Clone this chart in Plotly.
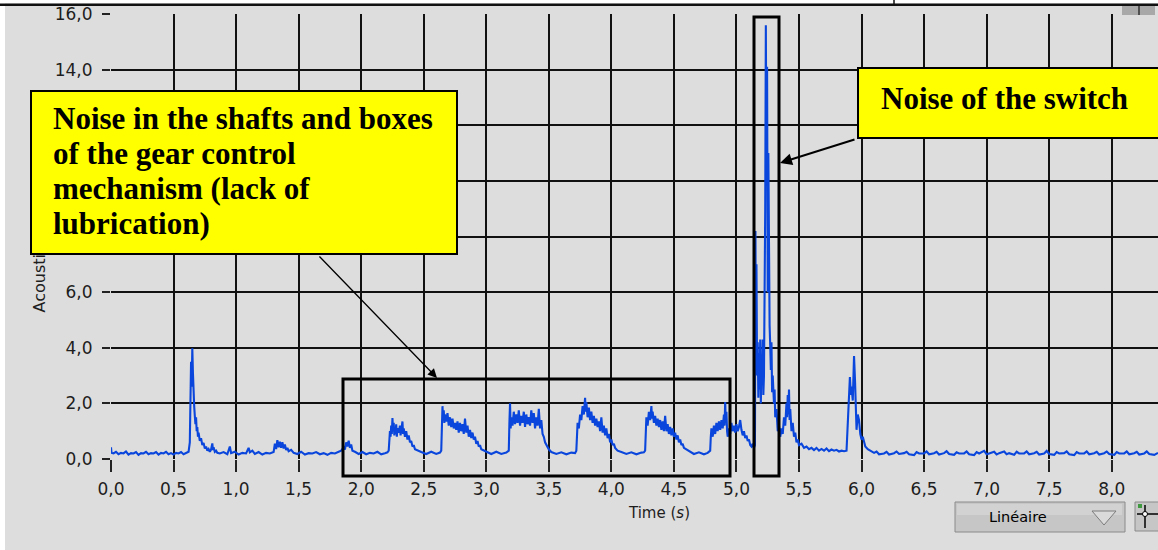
import plotly.graph_objects as go

# ---------------- data (time in s, acoustic level) ----------------
start_idle = [(0.000, 0.42), (0.004, 0.22), (0.02, 0.20), (0.04, 0.26), (0.06, 0.17), (0.08, 0.22),
              (0.10, 0.20), (0.12, 0.27), (0.14, 0.16), (0.16, 0.21), (0.18, 0.20), (0.20, 0.25),
              (0.22, 0.15), (0.24, 0.21), (0.26, 0.20), (0.28, 0.26), (0.30, 0.17), (0.32, 0.21),
              (0.34, 0.20), (0.36, 0.25), (0.38, 0.16), (0.40, 0.22), (0.42, 0.20), (0.44, 0.26),
              (0.46, 0.17), (0.48, 0.21), (0.50, 0.16), (0.52, 0.22), (0.54, 0.20), (0.56, 0.25),
              (0.58, 0.17), (0.60, 0.22), (0.62, 0.26)]

first_peak = [(0.630, 0.60), (0.636, 2.90), (0.640, 3.50), (0.645, 2.60), (0.650, 3.98), (0.655, 3.10),
              (0.660, 2.20), (0.665, 1.90), (0.670, 1.55), (0.675, 1.25), (0.680, 1.50), (0.685, 1.00),
              (0.690, 1.15), (0.695, 0.80), (0.700, 0.95), (0.710, 0.65), (0.720, 0.75), (0.730, 0.50),
              (0.740, 0.58), (0.750, 0.38), (0.760, 0.45), (0.770, 0.30), (0.780, 0.36), (0.790, 0.26),
              (0.800, 0.34), (0.810, 0.56), (0.815, 0.32), (0.820, 0.42), (0.830, 0.26), (0.840, 0.30),
              (0.850, 0.22)]

mid_idle = [(0.87, 0.20), (0.90, 0.25), (0.93, 0.17), (0.95, 0.45), (0.96, 0.21), (0.99, 0.26),
            (1.02, 0.16), (1.05, 0.22), (1.08, 0.20), (1.10, 0.40), (1.11, 0.24), (1.13, 0.30),
            (1.15, 0.18), (1.18, 0.25), (1.21, 0.16), (1.24, 0.22), (1.27, 0.20), (1.30, 0.25),
            (1.31, 0.55), (1.32, 0.36), (1.33, 0.68), (1.34, 0.42), (1.35, 0.62), (1.36, 0.40),
            (1.37, 0.60), (1.38, 0.38), (1.39, 0.52), (1.40, 0.32), (1.41, 0.40), (1.42, 0.28),
            (1.44, 0.33), (1.46, 0.22), (1.49, 0.18), (1.52, 0.26), (1.55, 0.16), (1.58, 0.21),
            (1.61, 0.20), (1.64, 0.25), (1.67, 0.17), (1.70, 0.21), (1.73, 0.15), (1.76, 0.22),
            (1.79, 0.20), (1.82, 0.26), (1.84, 0.30)]

small_bump = [(1.86, 0.42), (1.87, 0.34), (1.88, 0.60), (1.89, 0.45), (1.90, 0.66), (1.91, 0.40),
              (1.92, 0.52), (1.93, 0.30), (1.95, 0.26), (1.98, 0.18), (2.01, 0.25), (2.04, 0.17),
              (2.07, 0.22), (2.10, 0.20), (2.13, 0.26), (2.16, 0.17), (2.19, 0.21), (2.21, 0.24)]

gear_burst_1 = [(2.220, 0.30), (2.225, 0.70), (2.230, 1.00), (2.235, 0.80), (2.240, 1.20), (2.245, 0.90),
                (2.250, 1.47), (2.255, 1.00), (2.260, 1.30), (2.265, 0.85), (2.270, 1.15), (2.275, 0.90),
                (2.280, 1.25), (2.285, 0.80), (2.290, 1.10), (2.300, 0.95), (2.310, 1.20), (2.315, 0.85),
                (2.320, 1.05), (2.330, 1.35), (2.335, 0.90), (2.340, 1.10), (2.350, 0.80), (2.360, 1.00),
                (2.370, 0.70), (2.380, 0.85), (2.390, 0.60), (2.400, 0.65), (2.410, 0.45), (2.420, 0.50),
                (2.430, 0.35), (2.450, 0.30), (2.480, 0.25), (2.520, 0.18), (2.560, 0.26), (2.600, 0.18),
                (2.630, 0.23)]

gear_burst_2 = [(2.640, 0.30), (2.645, 1.50), (2.650, 1.90), (2.655, 1.40), (2.660, 1.75), (2.665, 1.30),
                (2.670, 1.60), (2.680, 1.35), (2.690, 1.65), (2.700, 1.20), (2.710, 1.50), (2.720, 1.15),
                (2.730, 1.45), (2.740, 1.10), (2.750, 1.30), (2.760, 1.05), (2.770, 1.35), (2.780, 0.95),
                (2.790, 1.30), (2.800, 1.00), (2.810, 1.25), (2.820, 0.90), (2.830, 1.45), (2.840, 0.95),
                (2.850, 1.20), (2.860, 0.80), (2.870, 1.05), (2.880, 0.75), (2.890, 0.95), (2.900, 0.70),
                (2.910, 0.80), (2.920, 0.55), (2.930, 0.65), (2.940, 0.45), (2.950, 0.50), (2.960, 0.35),
                (2.980, 0.30), (3.000, 0.25), (3.040, 0.18), (3.080, 0.26), (3.120, 0.18), (3.160, 0.23)]

gear_burst_3 = [(3.180, 0.30), (3.185, 1.30), (3.190, 2.00), (3.195, 1.10), (3.200, 1.50), (3.210, 1.20),
                (3.220, 1.70), (3.230, 1.25), (3.240, 1.60), (3.250, 1.30), (3.260, 1.75), (3.270, 1.20),
                (3.280, 1.55), (3.290, 1.30), (3.300, 1.70), (3.310, 1.15), (3.320, 1.60), (3.330, 1.25),
                (3.340, 1.50), (3.350, 1.20), (3.360, 1.75), (3.370, 1.30), (3.380, 1.65), (3.390, 1.10),
                (3.400, 1.50), (3.410, 1.20), (3.420, 1.80), (3.430, 1.10), (3.440, 1.40), (3.450, 0.90),
                (3.460, 0.80), (3.470, 0.60), (3.480, 0.50), (3.500, 0.35), (3.520, 0.25), (3.560, 0.18),
                (3.600, 0.24), (3.640, 0.17), (3.680, 0.23), (3.710, 0.21)]

gear_burst_4 = [(3.720, 0.30), (3.725, 1.00), (3.730, 1.30), (3.740, 1.10), (3.750, 1.60), (3.760, 1.40),
                (3.770, 1.90), (3.780, 1.60), (3.790, 2.20), (3.795, 1.70), (3.800, 2.05), (3.810, 1.50),
                (3.820, 1.85), (3.830, 1.40), (3.840, 1.70), (3.850, 1.30), (3.860, 1.55), (3.870, 1.20),
                (3.880, 1.45), (3.890, 1.15), (3.900, 1.35), (3.910, 1.00), (3.920, 1.50), (3.930, 0.95),
                (3.940, 1.20), (3.950, 0.85), (3.960, 1.10), (3.970, 0.75), (3.980, 0.90), (3.990, 0.60),
                (4.000, 0.70), (4.010, 0.50), (4.020, 0.55), (4.030, 0.40), (4.050, 0.30), (4.080, 0.25),
                (4.120, 0.18), (4.160, 0.24), (4.200, 0.17), (4.240, 0.23), (4.260, 0.24)]

gear_burst_5 = [(4.270, 0.30), (4.275, 1.20), (4.280, 1.50), (4.290, 1.20), (4.300, 1.70), (4.310, 1.40),
                (4.320, 1.90), (4.325, 1.45), (4.330, 1.70), (4.340, 1.30), (4.350, 1.55), (4.360, 1.20),
                (4.370, 1.45), (4.380, 1.15), (4.390, 1.40), (4.400, 1.05), (4.410, 1.35), (4.420, 1.00),
                (4.430, 1.55), (4.440, 1.00), (4.450, 1.25), (4.460, 0.90), (4.470, 1.15), (4.480, 0.85),
                (4.490, 1.10), (4.500, 0.80), (4.510, 0.95), (4.520, 0.70), (4.530, 0.85), (4.540, 0.60),
                (4.550, 0.70), (4.560, 0.50), (4.570, 0.55), (4.580, 0.40), (4.600, 0.35), (4.620, 0.28),
                (4.660, 0.18), (4.700, 0.24), (4.740, 0.17), (4.770, 0.22)]

gear_burst_6 = [(4.790, 0.30), (4.795, 0.80), (4.800, 1.10), (4.810, 0.80), (4.820, 1.20), (4.830, 0.90),
                (4.840, 1.30), (4.850, 1.00), (4.860, 1.35), (4.870, 1.05), (4.880, 1.40), (4.890, 1.10),
                (4.900, 1.60), (4.905, 1.20), (4.910, 2.05), (4.915, 1.30), (4.920, 1.70), (4.925, 1.00),
                (4.930, 0.80), (4.940, 1.10), (4.950, 0.90), (4.960, 1.30), (4.970, 1.00), (4.980, 1.20),
                (4.990, 0.95), (5.000, 1.25), (5.010, 1.00), (5.020, 1.15), (5.030, 1.40), (5.040, 1.05),
                (5.050, 0.85), (5.060, 1.00), (5.070, 0.75), (5.080, 0.85), (5.090, 0.65), (5.100, 0.70),
                (5.110, 0.50), (5.120, 0.45), (5.130, 0.55), (5.140, 0.40)]

switch_event = [(5.148, 0.50), (5.152, 8.20), (5.155, 4.00), (5.160, 7.00), (5.165, 3.00), (5.170, 4.20),
                (5.175, 2.20), (5.180, 3.80), (5.185, 2.50), (5.190, 4.30), (5.195, 2.00), (5.200, 3.60),
                (5.205, 2.80), (5.210, 4.30), (5.215, 2.30), (5.220, 3.00), (5.225, 5.20), (5.230, 9.00),
                (5.235, 15.60), (5.240, 10.00), (5.245, 14.10), (5.250, 6.00), (5.255, 11.00), (5.260, 5.50),
                (5.265, 4.80), (5.270, 4.10), (5.275, 3.20), (5.280, 4.20), (5.285, 2.40), (5.290, 3.00),
                (5.300, 2.00), (5.305, 2.50), (5.310, 1.50), (5.320, 1.80), (5.330, 1.00), (5.340, 1.20),
                (5.350, 0.80), (5.360, 1.10), (5.370, 0.90), (5.380, 1.50), (5.390, 1.20), (5.400, 2.00),
                (5.405, 1.50), (5.410, 2.30), (5.415, 1.60), (5.420, 2.50), (5.425, 1.40), (5.430, 1.80),
                (5.440, 1.00), (5.450, 1.30), (5.460, 0.80), (5.470, 0.95), (5.480, 0.60), (5.490, 0.70),
                (5.500, 0.50), (5.520, 0.55), (5.540, 0.40), (5.560, 0.45), (5.580, 0.35), (5.600, 0.40),
                (5.620, 0.32), (5.640, 0.40), (5.660, 0.30), (5.680, 0.36), (5.700, 0.30), (5.720, 0.38),
                (5.740, 0.28), (5.760, 0.34), (5.780, 0.30), (5.800, 0.33), (5.820, 0.27), (5.840, 0.30),
                (5.860, 0.28), (5.880, 0.30)]

release_peak = [(5.890, 1.30), (5.900, 2.20), (5.907, 2.95), (5.915, 2.30), (5.920, 2.60), (5.930, 2.10),
                (5.940, 3.70), (5.948, 2.80), (5.955, 1.90), (5.960, 1.05), (5.970, 1.60), (5.980, 1.40),
                (5.990, 0.90), (6.000, 0.70), (6.010, 0.80), (6.020, 0.55), (6.030, 0.45), (6.050, 0.35),
                (6.070, 0.30)]

tail_idle = [(6.10, 0.22), (6.12, 0.27), (6.14, 0.17), (6.18, 0.20), (6.20, 0.26), (6.22, 0.16),
             (6.26, 0.21), (6.28, 0.27), (6.30, 0.18), (6.34, 0.21), (6.36, 0.26), (6.38, 0.17),
             (6.42, 0.14), (6.44, 0.25), (6.46, 0.20), (6.50, 0.20), (6.52, 0.27), (6.54, 0.17),
             (6.58, 0.21), (6.60, 0.26), (6.62, 0.16), (6.66, 0.21), (6.68, 0.28), (6.70, 0.18),
             (6.74, 0.15), (6.76, 0.24), (6.78, 0.20), (6.82, 0.20), (6.84, 0.27), (6.86, 0.17),
             (6.90, 0.14), (6.92, 0.25), (6.94, 0.20), (6.98, 0.29), (7.00, 0.17), (7.02, 0.20),
             (7.06, 0.26), (7.08, 0.16), (7.10, 0.21), (7.14, 0.27), (7.16, 0.17), (7.18, 0.21),
             (7.22, 0.15), (7.24, 0.26), (7.26, 0.20), (7.30, 0.20), (7.32, 0.27), (7.34, 0.17),
             (7.38, 0.21), (7.40, 0.26), (7.42, 0.16), (7.46, 0.20), (7.48, 0.29), (7.50, 0.18),
             (7.54, 0.15), (7.56, 0.25), (7.58, 0.20), (7.62, 0.21), (7.64, 0.27), (7.66, 0.17),
             (7.70, 0.14), (7.72, 0.25), (7.74, 0.20), (7.78, 0.20), (7.80, 0.27), (7.82, 0.17),
             (7.86, 0.21), (7.88, 0.26), (7.90, 0.16), (7.94, 0.21), (7.96, 0.27), (7.98, 0.18),
             (8.02, 0.15), (8.04, 0.25), (8.06, 0.20), (8.10, 0.20), (8.12, 0.27), (8.14, 0.17),
             (8.18, 0.21), (8.20, 0.26), (8.22, 0.16), (8.26, 0.20), (8.28, 0.27), (8.30, 0.18),
             (8.34, 0.15), (8.37, 0.22)]

segments = [start_idle, first_peak, mid_idle, small_bump, gear_burst_1, gear_burst_2, gear_burst_3,
            gear_burst_4, gear_burst_5, gear_burst_6, switch_event, release_peak, tail_idle]

time_s = [p[0] for seg in segments for p in seg]
level = [p[1] for seg in segments for p in seg]

x_ticks = [0.0, 0.5, 1.0, 1.5, 2.0, 2.5, 3.0, 3.5, 4.0, 4.5, 5.0, 5.5, 6.0, 6.5, 7.0, 7.5, 8.0]
y_ticks = [0, 2, 4, 6, 8, 10, 12, 14, 16]

# ---------------- layout geometry (pixels) ----------------
W, H = 1158, 550
PL, PR, PT, PB = 111, 1158, 14, 459


def fx(px):
    return (px - PL) / (PR - PL)


def fy(py):
    return (PB - py) / (PB - PT)


BG = '#dddddd'
TXT = '#1e1e1e'
LBL_FONT = dict(family='DejaVu Sans', size=17, color=TXT)
BOX_FONT = dict(family='Liberation Serif', size=27, color='black', weight='bold')


def boxline(s):
    return '<span style="font-size:31px">' + s + '</span>'


fig = go.Figure()
fig.add_trace(go.Scatter(x=time_s, y=level, mode='lines',
                         line=dict(color='#0a46dc', width=2.1), hoverinfo='skip', showlegend=False))

fig.update_layout(
    width=W, height=H,
    margin=dict(l=PL, r=W - PR, t=PT, b=H - PB, pad=0),
    paper_bgcolor=BG, plot_bgcolor=BG,
    separators=', ',
    font=dict(family='DejaVu Sans', color=TXT),
    showlegend=False,
    xaxis=dict(range=[0, 8.37], tickvals=x_ticks, tickformat='.1f', showgrid=True,
               gridcolor='#111111', gridwidth=2, zeroline=False, showline=False,
               ticks='outside', ticklen=12, tickwidth=1.5, tickcolor='#222222',
               ticklabelstandoff=3, tickfont=LBL_FONT),
    yaxis=dict(range=[0, 16], tickvals=y_ticks, tickformat='.1f', showgrid=True,
               gridcolor='#111111', gridwidth=2, zeroline=False, showline=False,
               ticks='outside', ticklen=8, tickwidth=1.5, tickcolor='#222222',
               ticklabelstandoff=6, tickfont=LBL_FONT),
)

shapes = []
# highlight frames
shapes.append(dict(type='rect', xref='paper', yref='paper', x0=fx(343), x1=fx(730), y0=fy(476), y1=fy(379),
                   line=dict(color='black', width=3), fillcolor='rgba(0,0,0,0)', layer='above'))
shapes.append(dict(type='rect', xref='paper', yref='paper', x0=fx(754), x1=fx(779), y0=fy(476), y1=fy(17),
                   line=dict(color='black', width=3), fillcolor='rgba(0,0,0,0)', layer='above'))
# page decorations
shapes.append(dict(type='rect', xref='paper', yref='paper', x0=fx(0), x1=fx(5), y0=fy(550), y1=fy(0),
                   line=dict(width=0), fillcolor='white', layer='above'))
shapes.append(dict(type='rect', xref='paper', yref='paper', x0=fx(0), x1=fx(1158), y0=fy(3.5), y1=fy(0),
                   line=dict(width=0), fillcolor='white', layer='above'))
shapes.append(dict(type='rect', xref='paper', yref='paper', x0=fx(0), x1=fx(1158), y0=fy(6), y1=fy(3.5),
                   line=dict(width=0), fillcolor='#111111', layer='above'))
shapes.append(dict(type='line', xref='paper', yref='paper', x0=fx(894), x1=fx(894), y0=fy(4), y1=fy(0),
                   line=dict(color='#111111', width=1.5), layer='above'))
shapes.append(dict(type='rect', xref='paper', yref='paper', x0=fx(1122), x1=fx(1155), y0=fy(15), y1=fy(6),
                   line=dict(width=0), fillcolor='#a8a8a8', layer='above'))
shapes.append(dict(type='line', xref='paper', yref='paper', x0=fx(1139), x1=fx(1139), y0=fy(15), y1=fy(6),
                   line=dict(color='#333333', width=1.5), layer='above'))
# scale selector button
shapes.append(dict(type='rect', xref='paper', yref='paper', x0=fx(955), x1=fx(1125), y0=fy(532), y1=fy(502),
                   line=dict(color='#8a8a8a', width=1), fillcolor='#c6c6c6', layer='above'))
shapes.append(dict(type='rect', xref='paper', yref='paper', x0=fx(957), x1=fx(1122), y0=fy(515), y1=fy(504),
                   line=dict(width=0), fillcolor='#d2d2d2', layer='above'))
tri = 'M {} {} L {} {} L {} {} Z'.format(fx(1092), fy(511), fx(1116), fy(511), fx(1104), fy(525))
shapes.append(dict(type='path', xref='paper', yref='paper', path=tri,
                   line=dict(color='#7c7c7c', width=1), fillcolor='#dadada', layer='above'))
# cursor tool icon
shapes.append(dict(type='rect', xref='paper', yref='paper', x0=fx(1135), x1=fx(1160), y0=fy(531), y1=fy(502),
                   line=dict(color='#8a8a8a', width=1), fillcolor='#c6c6c6', layer='above'))
shapes.append(dict(type='line', xref='paper', yref='paper', x0=fx(1137), x1=fx(1158), y0=fy(514), y1=fy(514),
                   line=dict(color='black', width=1.5), layer='above'))
shapes.append(dict(type='line', xref='paper', yref='paper', x0=fx(1145), x1=fx(1145), y0=fy(528), y1=fy(505),
                   line=dict(color='black', width=1.5), layer='above'))
shapes.append(dict(type='circle', xref='paper', yref='paper', x0=fx(1142.5), x1=fx(1147.5), y0=fy(516.5), y1=fy(511.5),
                   line=dict(color='black', width=1), fillcolor='white', layer='above'))
shapes.append(dict(type='rect', xref='paper', yref='paper', x0=fx(1138), x1=fx(1142), y0=fy(508), y1=fy(504),
                   line=dict(width=0), fillcolor='#3f9a3f', layer='above'))
fig.update_layout(shapes=shapes)

ann = []
# axis titles (drawn first so the callout box covers the y title)
ann.append(dict(text='Acoustic pressure (Pa)', xref='paper', yref='paper', x=fx(38.5), y=fy(224),
                textangle=-90, showarrow=False, font=dict(family='DejaVu Sans', size=16, color=TXT),
                xanchor='center', yanchor='middle'))
ann.append(dict(text='Time (<i>s</i>)', xref='paper', yref='paper', x=fx(659), y=fy(513),
                showarrow=False, font=dict(family='DejaVu Sans', size=15, color=TXT),
                xanchor='center', yanchor='middle'))
ann.append(dict(text='Linéaire', xref='paper', yref='paper', x=fx(1018), y=fy(517),
                showarrow=False, font=dict(family='DejaVu Sans', size=14.5, color='black'),
                xanchor='center', yanchor='middle'))
# yellow callout boxes
ann.append(dict(text=' ', xref='paper', yref='paper', x=fx(30), y=fy(90), xanchor='left', yanchor='top',
                showarrow=False, width=424, height=161, bgcolor='#ffff00', bordercolor='black',
                borderwidth=2, borderpad=0))
box1_lines = ['Noise in the shafts and boxes', 'of the gear control', 'mechanism (lack of', 'lubrication)']
ann.append(dict(text='<br>'.join(boxline(s) for s in box1_lines),
                xref='paper', yref='paper', x=fx(51), y=fy(171), xanchor='left', yanchor='middle',
                align='left', showarrow=False, font=BOX_FONT))
ann.append(dict(text=' ', xref='paper', yref='paper', x=fx(857), y=fy(67), xanchor='left', yanchor='top',
                showarrow=False, width=300, height=68, bgcolor='#ffff00', bordercolor='black',
                borderwidth=2, borderpad=0))
ann.append(dict(text=boxline('Noise of the switch'), xref='paper', yref='paper', x=fx(879), y=fy(98),
                xanchor='left', yanchor='middle', align='left', showarrow=False, font=BOX_FONT))
# arrows
ann.append(dict(text='', xref='paper', yref='paper', x=fx(437), y=fy(378), ax=318 - 437, ay=255 - 378,
                showarrow=True, arrowhead=2, arrowsize=1.4, arrowwidth=1.3, arrowcolor='black'))
ann.append(dict(text='', xref='paper', yref='paper', x=fx(780), y=fy(163), ax=856 - 780, ay=139 - 163,
                showarrow=True, arrowhead=2, arrowsize=1.2, arrowwidth=2, arrowcolor='black'))
fig.update_layout(annotations=ann)

fig.write_html('out.html', config={'displayModeBar': False},
               post_script="document.body.style.margin='0px';document.body.style.overflow='hidden';")
